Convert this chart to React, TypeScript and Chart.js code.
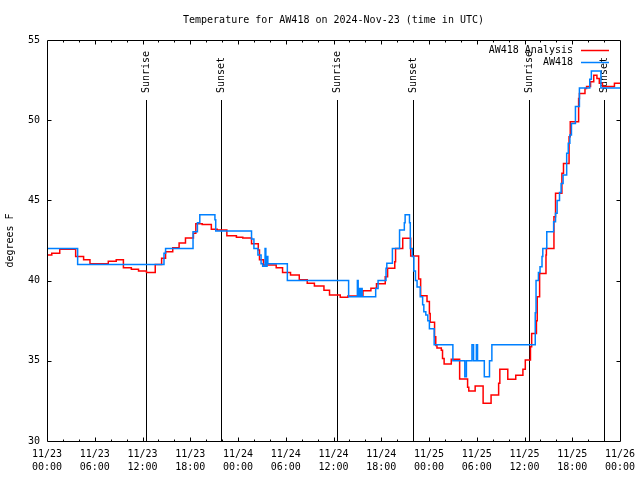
import React, { useEffect, useRef } from 'react';
import { Chart, registerables } from 'chart.js';

Chart.register(...registerables);

const TITLE = 'Temperature for AW418 on 2024-Nov-23 (time in UTC)';
const Y_LABEL = 'degrees F';
const ANALYSIS_NAME = 'AW418 Analysis';
const OBS_NAME = 'AW418';

const X_MIN = 0;
const X_MAX = 72;
const Y_MIN = 30;
const Y_MAX = 55;

const xLabelDates = ['11/23', '11/23', '11/23', '11/23', '11/24', '11/24', '11/24', '11/24', '11/25', '11/25', '11/25', '11/25', '11/26'];
const xLabelTimes = ['00:00', '06:00', '12:00', '18:00', '00:00', '06:00', '12:00', '18:00', '00:00', '06:00', '12:00', '18:00', '00:00'];

const sunLabels = ['Sunrise', 'Sunset', 'Sunrise', 'Sunset', 'Sunrise', 'Sunset'];
const sunHours = [12.4, 21.9, 36.47, 46.03, 60.62, 70.0];

// hours since 11/23 00:00 UTC
const analysisHours = [
  0, 0.6, 1.6, 3.6, 4.6, 5.4, 7.7, 8.7, 9.6, 10.6, 11.5, 12.5, 13.6, 14.4, 14.9, 15.8, 16.6, 17.4, 18.4, 18.7,
  19.5, 20.65, 21.4, 22.6, 23.8, 24.6, 25.7, 26.55, 26.7, 27.2, 28.8, 29.6, 30.6, 31.7, 32.7, 33.6, 34.8, 35.5,
  36.85, 37.8, 39.7, 40.7, 41.4, 42.5, 42.8, 43.7, 43.8, 44.7, 45.7, 46.7, 46.95, 47.75, 48.05, 48.15, 48.7,
  48.85, 49.0, 49.55, 49.7, 49.9, 50.8, 51.85, 52.85, 53.0, 53.8, 54.8, 55.8, 56.75, 56.9, 57.9, 58.9, 59.8,
  60.1, 60.75, 60.9, 61.5, 61.6, 61.9, 62.7, 62.75, 63.7, 63.9, 64.7, 64.9, 65.6, 65.75, 66.8, 66.9, 67.6,
  67.8, 68.3, 68.7, 69.1, 69.4, 69.8, 71.3, 72,
];
const analysisTemps = [
  41.6, 41.7, 41.95, 41.5, 41.3, 41.05, 41.2, 41.3, 40.8, 40.7, 40.6, 40.5, 41.0, 41.4, 41.8, 42.05, 42.35, 42.65, 42.95, 43.55,
  43.5, 43.2, 43.15, 42.8, 42.7, 42.65, 42.3, 41.9, 41.3, 40.97, 40.8, 40.5, 40.35, 40.05, 39.83, 39.66, 39.4, 39.1,
  38.96, 39.04, 39.37, 39.52, 39.8, 40.24, 40.77, 41.18, 42.0, 42.64, 41.53, 40.1, 39.05, 38.7, 37.95, 37.4, 36.5,
  35.95, 35.8, 35.65, 35.15, 34.8, 35.1, 33.87, 33.35, 33.12, 33.43, 32.35, 32.87, 33.6, 34.47, 33.85, 34.1, 34.47,
  35.05, 35.88, 36.7, 37.5, 39.0, 40.45, 41.6, 42.0, 43.98, 45.44, 46.7, 47.3, 48.97, 49.9, 51.36, 51.67, 51.98,
  52.1, 52.4, 52.8, 52.6, 52.3, 52.1, 52.3, 52.3,
];

const obsHours = [
  0, 3.85, 14.7, 14.9, 18.35, 18.9, 19.2, 21.1, 21.2, 25.7, 26.0, 26.5, 26.9, 27.1, 27.4, 27.5, 27.65, 27.75,
  30.2, 37.9, 39.0, 39.1, 39.25, 39.35, 39.5, 39.6, 41.3, 41.6, 42.6, 42.7, 43.4, 44.3, 44.9, 45.0, 45.55,
  45.65, 45.9, 46.1, 46.3, 46.5, 46.9, 47.2, 47.35, 47.6, 47.85, 48.05, 48.65, 51.0, 52.5, 52.7, 53.4, 53.6,
  53.95, 54.1, 54.95, 55.6, 55.9, 61.35, 61.45, 61.75, 61.95, 62.2, 62.3, 62.8, 63.66, 63.9, 64.1, 64.4, 64.6,
  64.85, 65.3, 65.5, 65.7, 65.9, 66.4, 66.9, 68.2, 68.4, 69.6, 72,
];
const obsTemps = [
  42.0, 41.0, 41.7, 42.0, 43.05, 43.6, 44.1, 43.8, 43.1, 42.6, 42.0, 41.6, 41.05, 40.9, 42.0, 40.9, 41.5, 41.05,
  40.0, 39.0, 40.0, 39.0, 39.5, 39.0, 39.5, 39.0, 39.5, 40.0, 40.77, 41.08, 42.0, 43.15, 43.6, 44.1, 43.6,
  42.0, 41.5, 40.6, 40.0, 39.6, 39.0, 38.5, 38.06, 37.85, 37.5, 37.0, 36.0, 35.0, 34.0, 35.0, 36.0, 35.0,
  36.0, 35.0, 34.0, 35.0, 36.0, 38.0, 40.0, 40.5, 40.87, 41.5, 42.0, 43.05, 43.67, 44.2, 45.0, 45.5, 46.06,
  46.58, 47.94, 48.56, 49.08, 49.8, 50.85, 52.0, 52.55, 53.07, 52.0, 52.0,
];

const RED = '#ff0000';
const BLUE = 'rgb(0,128,255)';
const FAMILY = '"DejaVu Sans Mono", monospace';
const FONT = '10px ' + FAMILY;

const decorPlugin = {
  id: 'decor',
  beforeDatasetsDraw(chart: any) {
    const { ctx, chartArea: a } = chart;
    const x = chart.scales.x;
    ctx.save();
    ctx.strokeStyle = '#000';
    ctx.fillStyle = '#000';
    ctx.lineWidth = 1;
    ctx.font = FONT;
    sunHours.forEach((h, i) => {
      const px = Math.round(x.getPixelForValue(h)) + 0.5;
      ctx.beginPath();
      ctx.moveTo(px, a.top + 60);
      ctx.lineTo(px, a.bottom);
      ctx.stroke();
      ctx.save();
      ctx.translate(px, a.top + 53);
      ctx.rotate(-Math.PI / 2);
      ctx.textAlign = 'left';
      ctx.textBaseline = 'middle';
      ctx.fillText(sunLabels[i], 0, 0);
      ctx.restore();
    });
    ctx.restore();
  },
  afterDraw(chart: any) {
    const { ctx, chartArea: a } = chart;
    const x = chart.scales.x;
    const y = chart.scales.y;
    ctx.save();
    ctx.strokeStyle = '#000';
    ctx.fillStyle = '#000';
    ctx.lineWidth = 1;
    const L = Math.round(a.left) + 0.5;
    const R = Math.round(a.right) + 0.5;
    const T = Math.round(a.top) + 0.5;
    const B = Math.round(a.bottom) + 0.5;
    ctx.beginPath();
    ctx.rect(L, T, R - L, B - T);
    ctx.stroke();
    ctx.beginPath();
    for (let h = X_MIN + 2; h < X_MAX; h += 2) {
      const px = Math.round(x.getPixelForValue(h)) + 0.5;
      const len = h % 6 === 0 ? 4 : 2;
      ctx.moveTo(px, B);
      ctx.lineTo(px, B - len);
      ctx.moveTo(px, T);
      ctx.lineTo(px, T + len);
    }
    for (let v = Y_MIN + 5; v < Y_MAX; v += 5) {
      const py = Math.round(y.getPixelForValue(v)) + 0.5;
      ctx.moveTo(L, py);
      ctx.lineTo(L + 4, py);
      ctx.moveTo(R, py);
      ctx.lineTo(R - 4, py);
    }
    ctx.stroke();

    ctx.font = FONT;
    ctx.textAlign = 'center';
    ctx.textBaseline = 'alphabetic';
    ctx.fillText(TITLE, (a.left + a.right) / 2, 23);

    ctx.save();
    ctx.translate(10, (a.top + a.bottom) / 2);
    ctx.rotate(-Math.PI / 2);
    ctx.textAlign = 'center';
    ctx.textBaseline = 'middle';
    ctx.fillText(Y_LABEL, 0, 0);
    ctx.restore();

    const entries: [string, string][] = [[ANALYSIS_NAME, RED], [OBS_NAME, BLUE]];
    entries.forEach(([name, color], i) => {
      const ly = a.top + 10 + i * 12;
      ctx.fillStyle = '#000';
      ctx.textAlign = 'right';
      ctx.textBaseline = 'middle';
      ctx.fillText(name, a.right - 47, ly);
      ctx.strokeStyle = color;
      ctx.lineWidth = 1.5;
      ctx.beginPath();
      ctx.moveTo(a.right - 39, Math.round(ly) + 0.5);
      ctx.lineTo(a.right - 11, Math.round(ly) + 0.5);
      ctx.stroke();
    });
    ctx.restore();
  },
};

export default function App() {
  const ref = useRef<HTMLCanvasElement | null>(null);
  useEffect(() => {
    document.body.style.margin = '0';
    const canvas = ref.current;
    if (!canvas) return;
    const obsPts = obsHours.map((h, i) => ({ x: h, y: obsTemps[i] }));
    const anPts = analysisHours.map((h, i) => ({ x: h, y: analysisTemps[i] }));
    const chart = new Chart(canvas, {
      type: 'line',
      data: {
        datasets: [
          { label: OBS_NAME, data: obsPts, borderColor: BLUE, borderWidth: 1.5, stepped: 'before', pointRadius: 0, fill: false },
          { label: ANALYSIS_NAME, data: anPts, borderColor: RED, borderWidth: 1.5, stepped: 'before', pointRadius: 0, fill: false },
        ],
      },
      options: {
        animation: false,
        responsive: false,
        devicePixelRatio: 1,
        layout: { padding: { top: 40, right: 20, left: 0, bottom: 0 } },
        plugins: { legend: { display: false }, title: { display: false }, tooltip: { enabled: false } },
        scales: {
          x: {
            type: 'linear',
            min: X_MIN,
            max: X_MAX,
            grid: { display: false, drawTicks: false },
            border: { display: false },
            ticks: {
              stepSize: 2,
              autoSkip: false,
              maxRotation: 0,
              minRotation: 0,
              padding: 7,
              color: '#000',
              font: { family: FAMILY, size: 10, lineHeight: 1.3 },
              callback: (v: any) => {
                const n = Number(v);
                const i = Math.round(n / 6);
                if (Math.abs(n - i * 6) < 1e-6) return [xLabelDates[i], xLabelTimes[i]];
                return '';
              },
            },
            afterFit: (s: any) => { s.height = 39; s.paddingRight = 0; s.paddingLeft = 0; },
          },
          y: {
            type: 'linear',
            min: Y_MIN,
            max: Y_MAX,
            grid: { display: false, drawTicks: false },
            border: { display: false },
            ticks: { stepSize: 5, padding: 7, color: '#000', font: { family: FAMILY, size: 10 } },
            afterFit: (s: any) => { s.width = 47; s.paddingTop = 0; s.paddingBottom = 0; },
          },
        },
      } as any,
      plugins: [decorPlugin],
    });
    return () => chart.destroy();
  }, []);
  return (
    <div style={{ position: 'absolute', left: 0, top: 0, width: 640, height: 480, background: '#fff' }}>
      <canvas ref={ref} width={640} height={480} />
    </div>
  );
}
